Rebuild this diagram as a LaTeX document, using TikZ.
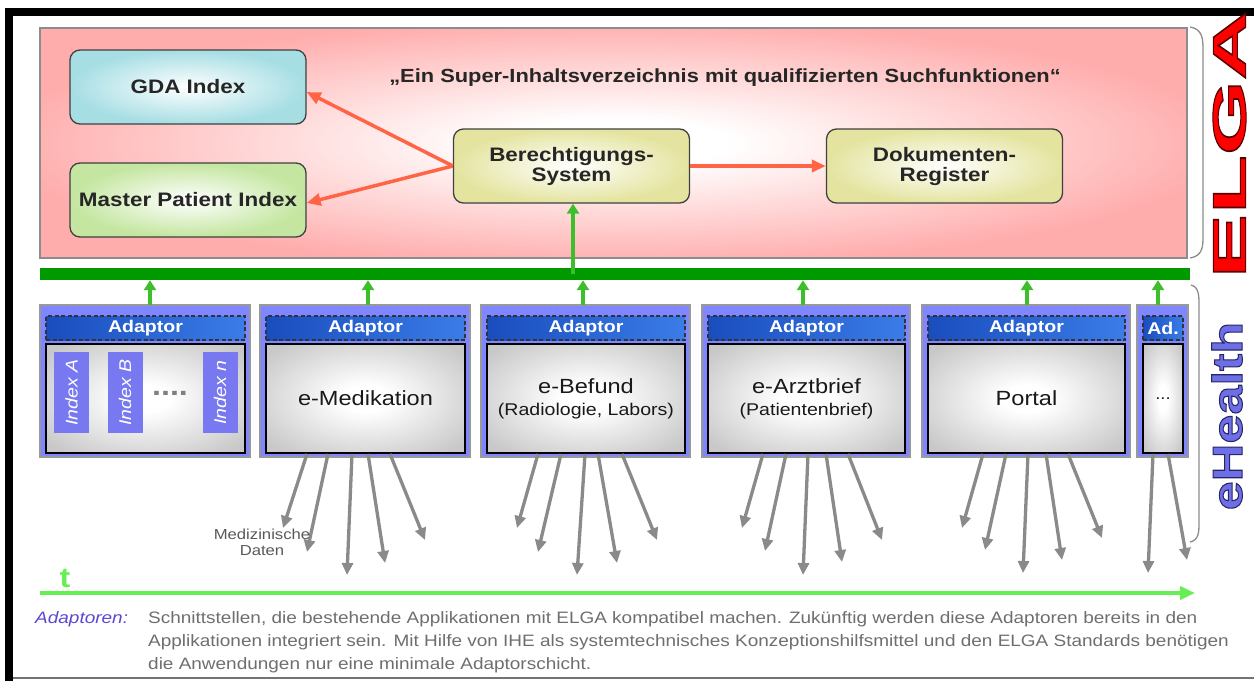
\documentclass[tikz,border=0pt]{standalone}
\usepackage{fontspec}
\setmainfont{Liberation Sans}[FakeStretch=1.15]
\usetikzlibrary{arrows.meta,calc}
\definecolor{pinkc}{HTML}{FFACAC}
\definecolor{gdac}{HTML}{A6DEE4}
\definecolor{mpic}{HTML}{C4E6A0}
\definecolor{bsc}{HTML}{E4E4A0}
\definecolor{appgray}{HTML}{C8C8C8}
\definecolor{adblue}{HTML}{7F86FF}
\definecolor{bardark}{HTML}{1A4DBE}
\definecolor{barmid}{HTML}{2662D2}
\definecolor{barlight}{HTML}{3A7CE8}
\definecolor{idxc}{HTML}{7878F0}
\definecolor{busgreen}{HTML}{009A00}
\definecolor{arrowgreen}{HTML}{3CBF2A}
\definecolor{redarrow}{HTML}{FF6446}
\definecolor{grayarrow}{HTML}{8A8A8A}
\definecolor{tgreen}{HTML}{66EE55}
\definecolor{footblue}{HTML}{5A48D0}
\definecolor{footgray}{HTML}{6E6E6E}
\definecolor{elgared}{HTML}{FF0000}
\definecolor{ehc}{HTML}{6E6EE6}
\pgfdeclareradialshading{pinkglow}{\pgfpoint{0bp}{0bp}}{color(0bp)=(white); color(5bp)=(white); color(27bp)=(pinkc); color(50bp)=(pinkc)}
\pgfdeclareradialshading{appglow}{\pgfpoint{0bp}{0bp}}{color(0bp)=(white); color(6bp)=(white); color(32bp)=(appgray); color(50bp)=(appgray)}
\newcommand\fs[2]{\fontsize{#1}{#2}\selectfont}
\newcommand\outlined[2]{\special{pdf:literal direct #1 RG 1 w 2 Tr}#2\special{pdf:literal direct 0 Tr}}
\newcommand\adblock[5]{%
  \node[adouter, minimum width={#3-#2}] (blk#1) at ({(#2+#3)/2},381) {};
  \node[adbar, minimum width={#3-#2-11}] (ad#1) at ({(#2+#3)/2+0.5},328) {#4};
  \node[appbox, minimum width={#3-#2-11}] (app#1) at ({(#2+#3)/2+0.5},398.5) {#5};
}
\begin{document}
\begin{tikzpicture}[x=1pt,y=-1pt,
  elgabg/.style={draw=black!45, line width=1.2pt, shading=pinkglow, minimum width=1147pt, minimum height=230pt, inner sep=0pt},
  topbox/.style={rounded corners=10pt, draw=black!75, line width=1.3pt, minimum width=236pt, minimum height=74pt, inner sep=0pt, font=\fs{19.5}{20}\bfseries, text=black!85, align=center},
  adouter/.style={fill=adblue, draw=black!40, line width=1.2pt, minimum height=152pt, inner sep=0pt, outer sep=0pt},
  adbar/.style={left color=bardark, middle color=barmid, right color=barlight, draw=black!80, dash pattern=on 4pt off 2.5pt, line width=1.2pt, minimum height=24pt, inner sep=0pt, text=white, font=\fs{17}{17}\bfseries},
  appbox/.style={shading=appglow, draw=black, line width=1.8pt, minimum height=109pt, inner sep=0pt, font=\fs{20.5}{22}, text=black!90, align=center},
  idx/.style={fill=idxc, minimum width=81pt, minimum height=35pt, inner sep=0pt, text=white, font=\fs{17}{18}\itshape},
  garr/.style={draw=arrowgreen, line width=4pt, -{Triangle[length=10pt,width=12pt]}},
  redarr/.style={draw=redarrow, line width=3.5pt, -{Triangle[length=14pt,width=12pt]}},
  grarr/.style={draw=grayarrow, line width=3.3pt, -{Triangle[length=12pt,width=11pt]}},
  taxis/.style={draw=tgreen, line width=4pt, -{Triangle[length=15pt,width=13pt]}},
  brace/.style={draw=black!45, line width=1.3pt}
]
\useasboundingbox (0,0) rectangle (1254,681);
% frame
\fill[black] (5,8) rectangle (13,681);
\fill[black] (5,8) rectangle (1254,16);
\draw[black!55, line width=1.5pt] (13,678) -- (1254,678);
% ELGA area
\node[elgabg] (elga) at (613.5,143) {};
\node[font=\fs{19}{20}\bfseries, text=black!85, anchor=base, inner sep=0pt] (title) at (725,82) {„Ein Super-Inhaltsverzeichnis mit qualifizierten Suchfunktionen“};
\node[topbox, inner color=white, outer color=gdac] (gda) at (188,87) {GDA Index};
\node[topbox, inner color=white, outer color=mpic] (mpi) at (188,200) {Master Patient Index};
\node[topbox, inner color=white, outer color=bsc] (bs) at (571.5,166) {Berechtigungs-\\System};
\node[topbox, inner color=white, outer color=bsc] (dr) at (944.5,166) {Dokumenten-\\Register};
\draw[redarr] (bs.west) -- ([yshift=-5pt]gda.east);
\draw[redarr] (bs.west) -- ([yshift=-3pt]mpi.east);
\draw[redarr] (bs.east) -- (dr.west);
% bus
\node[fill=busgreen, minimum width=1150pt, minimum height=12pt, inner sep=0pt] (bus) at (615,274) {};
% braces
\draw[brace] (1190,27) .. controls (1203,29) and (1203,40) .. (1203,50) -- (1203,236) .. controls (1203,246) and (1203,256) .. (1190,258);
\draw[brace] (1191,285) .. controls (1199,287) and (1199,296) .. (1199,305) -- (1199,522) .. controls (1199,532) and (1199,540) .. (1190,542);
% side labels
\node[rotate=90, text=elgared, font=\fs{47}{47}\bfseries, inner sep=0pt] (elgat) at (1229.5,144.5) {\scalebox{1.78}[1]{\outlined{0.35 0 0}{ELGA}}};
\node[rotate=90, text=ehc, font=\fs{42}{42}\bfseries, inner sep=0pt] (eht) at (1227,416) {\scalebox{1.08}[1]{\outlined{0.15 0.15 0.4}{eHealth}}};
% adaptor blocks
\adblock{1}{40}{250}{Adaptor}{}
\adblock{2}{260}{470}{Adaptor}{e-Medikation}
\adblock{3}{481}{690}{Adaptor}{e-Befund\\{\fs{17}{20}(Radiologie, Labors)}}
\adblock{4}{702}{910}{Adaptor}{e-Arztbrief\\{\fs{17}{20}(Patientenbrief)}}
\adblock{5}{922}{1130}{Adaptor}{Portal}
\adblock{6}{1137}{1188}{Ad.}{{\fs{16}{16}...}}
% index columns
\node[idx, rotate=90] (ixa) at (71.5,392.5) {Index A};
\node[idx, rotate=90] (ixb) at (125,392.5) {Index B};
\node[idx, rotate=90] (ixn) at (220,392.5) {Index n};
\node[text=black!50, font=\fs{28}{28}\bfseries, inner sep=0pt] (dots) at (170,393) {....};
% green arrows to bus
\foreach \i/\dx in {1/5,2/3,3/-2.5,4/-3,5/1,6/-4.5}{
  \coordinate (gs\i) at ($(blk\i.north)+(\dx,0)$);
  \coordinate (ge\i) at (gs\i |- bus.south);
  \draw[garr] (gs\i) -- (ge\i);
}
\coordinate (bsin) at ($(bs.south)+(1.5,0)$);
\coordinate (bsbus) at (bsin |- bus.center);
\draw[garr] (bsbus) -- (bsin);
% gray data arrows
\foreach \dx/\ex/\ey [count=\k] in {-58.5/283/528, -37.5/307/552, -13.5/347/575, 2.5/385/563, 24.5/425/540}{
  \coordinate (s2\k) at ($(app2.south)+(\dx,0)$);
  \coordinate (e2\k) at (\ex,\ey);
  \draw[grarr] (s2\k) -- (e2\k);
}
\foreach \dx/\ex/\ey [count=\k] in {-48/517/528, -25/538/552, -1/577/575, 12/617/563, 36/657/540}{
  \coordinate (s3\k) at ($(app3.south)+(\dx,0)$);
  \coordinate (e3\k) at (\ex,\ey);
  \draw[grarr] (s3\k) -- (e3\k);
}
\foreach \dx/\ex/\ey [count=\k] in {-43.5/742/528, -20.5/765/551, 1.5/803/575, 19.5/842/562, 41.5/882/540}{
  \coordinate (s4\k) at ($(app4.south)+(\dx,0)$);
  \coordinate (e4\k) at (\ex,\ey);
  \draw[grarr] (s4\k) -- (e4\k);
}
\foreach \dx/\ex/\ey [count=\k] in {-43.5/962/528, -20.5/985/550, 1.5/1023/573, 19.5/1062/560, 41.5/1102/538}{
  \coordinate (s5\k) at ($(app5.south)+(\dx,0)$);
  \coordinate (e5\k) at (\ex,\ey);
  \draw[grarr] (s5\k) -- (e5\k);
}
\foreach \dx/\ex/\ey [count=\k] in {-10/1148/573, 5/1187/560}{
  \coordinate (s6\k) at ($(app6.south)+(\dx,0)$);
  \coordinate (e6\k) at (\ex,\ey);
  \draw[grarr] (s6\k) -- (e6\k);
}
\node[font=\fs{14.5}{16}, text=black!65, align=center, inner sep=0pt] (md) at (262,542) {Medizinische\\Daten};
% time axis
\coordinate (t0) at (40,593);
\coordinate (t1) at (1195,593);
\draw[taxis] (t0) -- (t1);
\node[text=tgreen, font=\fs{28}{28}\bfseries, anchor=base, inner sep=0pt] (tl) at (65,587) {t};
% footnote
\node[anchor=base west, text=footblue, font=\fs{16.5}{23}\itshape, inner sep=0pt] (fnl) at (35,623) {Adaptoren:};
\node[anchor=base west, text=footgray, font=\fs{16.5}{23}, inner sep=0pt] (fn1) at (148,623) {Schnittstellen, die bestehende Applikationen mit ELGA kompatibel machen. Zukünftig werden diese Adaptoren bereits in den};
\node[anchor=base west, text=footgray, font=\fs{16.5}{23}, inner sep=0pt] (fn2) at (148,646) {Applikationen integriert sein. Mit Hilfe von IHE als systemtechnisches Konzeptionshilfsmittel und den ELGA Standards benötigen};
\node[anchor=base west, text=footgray, font=\fs{16.5}{23}, inner sep=0pt] (fn3) at (148,669) {die Anwendungen nur eine minimale Adaptorschicht.};
\end{tikzpicture}
\end{document}
